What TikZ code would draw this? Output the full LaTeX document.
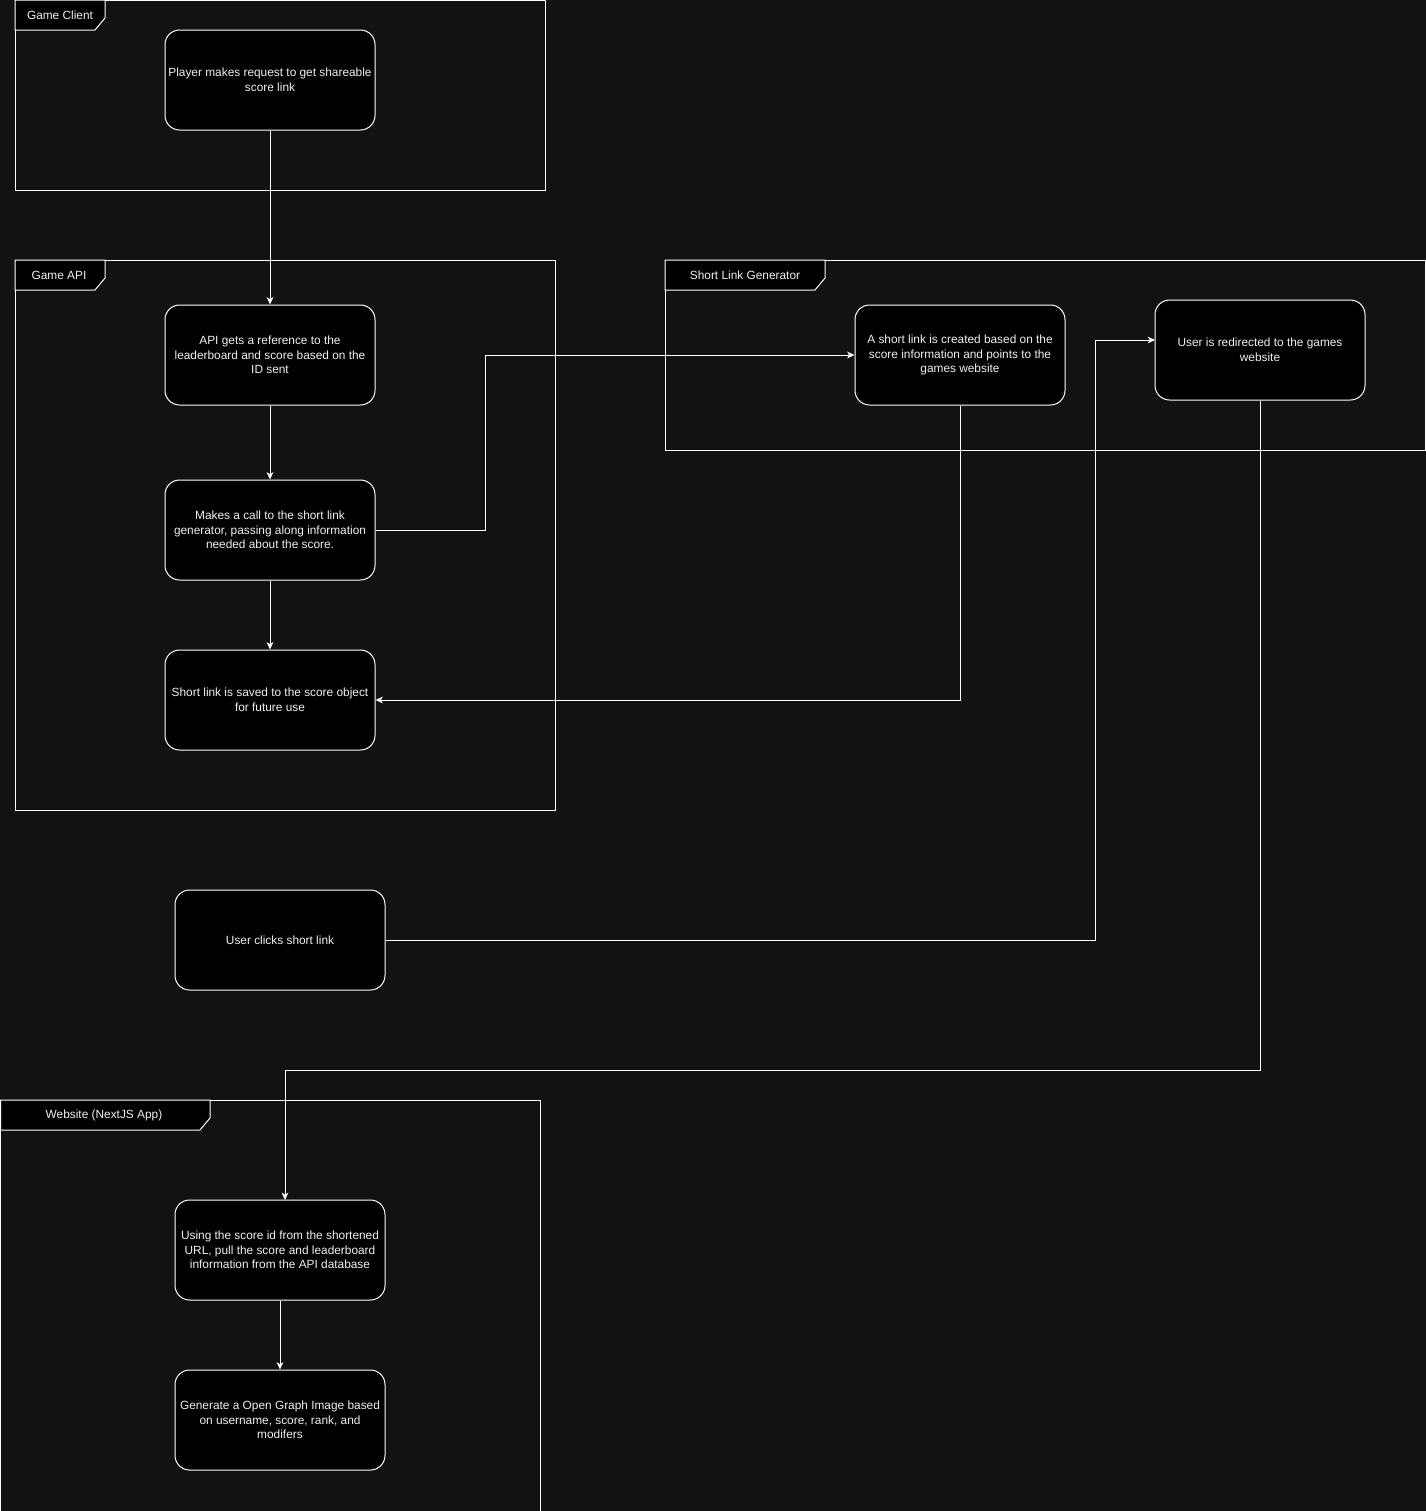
\documentclass[tikz,border=0pt]{standalone}
\usepackage{fontspec}
\setmainfont{Liberation Sans}
\usetikzlibrary{arrows.meta}

\definecolor{canvas}{RGB}{18,18,18}
\definecolor{ink}{RGB}{240,240,240}

\tikzset{
  stepbox/.style={rectangle, rounded corners=11pt, draw=white, fill=black, line width=0.75pt,
    text=ink, minimum width=157.5pt, minimum height=75pt, inner sep=1pt,
    align=center, font=\fontsize{8.9}{10.9}\selectfont},
  frame/.style={draw=white, line width=0.75pt},
  tab/.style={draw=white, fill=black, line width=0.75pt},
  tablabel/.style={text=ink, font=\fontsize{8.9}{10.9}\selectfont}
}

\begin{document}
\begin{tikzpicture}[x=0.75pt, y=-0.75pt]
\fill[canvas] (0,0) rectangle (1426,1511);
\useasboundingbox (0,0) rectangle (1426,1511);

% containers
\draw[frame] (15,0) rectangle (545,190);
\draw[tab] (15,0) -- (105,0) -- (105,18) -- (95,30) -- (15,30) -- cycle;
\node[tablabel] (clientlbl) at (60,15) {Game Client};

\draw[frame] (15,260) rectangle (555,810);
\draw[tab] (15,260) -- (105,260) -- (105,278) -- (95,290) -- (15,290) -- cycle;
\node[tablabel] (apilbl) at (59,275) {Game API};

\draw[frame] (665,260) rectangle (1425.5,450);
\draw[tab] (665,260) -- (825,260) -- (825,278) -- (815,290) -- (665,290) -- cycle;
\node[tablabel] (shortlbl) at (745,275) {Short Link Generator};

\draw[frame] (0.5,1100) rectangle (540,1511);
\draw[tab] (0.5,1100) -- (210,1100) -- (210,1118) -- (200,1130) -- (0.5,1130) -- cycle;
\node[tablabel] (weblbl) at (104,1115) {Website (NextJS App)};

\begin{scope}[every node/.style={stepbox}]
    \node (req) at (270, 80) {Player makes request to get shareable\\score link};
    \node (ref) at (270, 355) {API gets a reference to the\\leaderboard and score based on the\\ID sent};
    \node (call) at (270, 530) {Makes a call to the short link\\generator, passing along information\\needed about the score.};
    \node (save) at (270, 700) {Short link is saved to the score object\\for future use};

    \node (short) at (960, 355) {A short link is created based on the\\score information and points to the\\games website};
    \node (redir) at (1260, 350) {User is redirected to the games\\website};

    \node (click) at (280, 940) {User clicks short link};

    \node (pull) at (280, 1250) {Using the score id from the shortened\\URL, pull the score and leaderboard\\information from the API database};
    \node (og) at (280, 1420) {Generate a Open Graph Image based\\on username, score, rank, and\\modifers};
\end{scope}

\coordinate (callbend) at (485, 355);
\coordinate (clickbend) at (1095, 340);
\coordinate (redirin) at (1155, 340);
\coordinate (drop) at (285, 1070);
\coordinate (pullin) at (285, 1200);

\begin{scope}[>={Stealth[length=5.5pt, width=5pt, inset=1.5pt]},
              every path/.style={draw=white, line width=0.75pt}]
    \path [->] (req) edge (ref);
    \path [->] (ref) edge (call);
    \path [->] (call) edge (save);
    \draw [->] (call.east) -| (callbend) -- (short.west);
    \draw [->] (short.south) |- (save.east);
    \draw [->] (click.east) -| (clickbend) -- (redirin);
    \draw [->] (redir.south) |- (drop) -- (pullin);
    \path [->] (pull) edge (og);
\end{scope}
\end{tikzpicture}
\end{document}
